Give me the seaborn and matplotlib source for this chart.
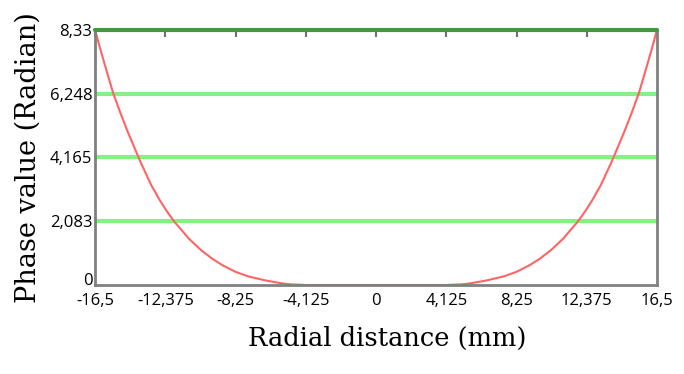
import numpy as np
import pandas as pd
import matplotlib
matplotlib.use("Agg")
import matplotlib.pyplot as plt
import matplotlib.transforms as mtransforms
import seaborn as sns

# phase profile (right half, curve is symmetric)
r_right = [0, 2.0, 4.125, 5.0, 5.5, 6.5, 7.5, 8.25, 9.0, 9.6, 10.3, 11.0,
           11.85, 12.3, 12.7, 13.2, 13.8, 14.2, 14.6, 15.0, 15.44, 16.0, 16.25, 16.5]
phase_right = [0, 0, 0, 0.02, 0.05, 0.15, 0.28, 0.43, 0.64, 0.85, 1.15, 1.52,
               2.07, 2.42, 2.77, 3.26, 3.98, 4.5, 5.03, 5.6, 6.27, 7.33, 7.82, 8.33]

x_ticks = [-16.5, -12.375, -8.25, -4.125, 0, 4.125, 8.25, 12.375, 16.5]
x_labels = ["-16,5", "-12,375", "-8,25", "-4,125", "0", "4,125", "8,25", "12,375", "16,5"]
y_ticks = [0, 2.083, 4.165, 6.248, 8.33]
y_labels = ["0", "2,083", "4,165", "6,248", "8,33"]

r = [-v for v in r_right[::-1]] + r_right[1:]
phase = phase_right[::-1] + phase_right[1:]
df = pd.DataFrame({"r": r, "phase": phase})

sns.set_style("white")
fig = plt.figure(figsize=(6.84, 3.74), dpi=100)
ax = fig.add_axes([0.139, 0.238, 0.8215, 0.682])

for yv in y_ticks[1:-1]:
    ax.axhline(yv, color="#86f086", lw=3, zorder=1)
ax.axhline(y_ticks[-1], color="#3f9a3f", lw=3, zorder=3, clip_on=False)

sns.lineplot(data=df, x="r", y="phase", color="#ff6464", lw=1.5, ax=ax,
             sort=False, zorder=2)

ax.set_xlim(-16.5, 16.5)
ax.set_ylim(0, 8.33)
ax.set_xticks(x_ticks)
ax.set_xticklabels(x_labels)
ax.set_yticks(y_ticks)
ax.set_yticklabels(y_labels)

for lab in ax.get_xticklabels() + ax.get_yticklabels():
    lab.set_fontfamily("Open Sans")
    lab.set_fontsize(12)
    lab.set_color("black")

ax.tick_params(axis="x", direction="in", top=True, length=5, width=1.5,
               color="#707070", pad=6)
ax.tick_params(axis="y", length=0, pad=2)

# nudge the "0" on the y axis up so it clears "-16,5"
zero_lab = ax.get_yticklabels()[0]
zero_lab.set_transform(zero_lab.get_transform() +
                       mtransforms.ScaledTranslation(0, 4 / 72, fig.dpi_scale_trans))

for side in ["left", "right", "bottom"]:
    ax.spines[side].set_color("#808080")
    ax.spines[side].set_linewidth(2)
ax.spines["top"].set_visible(False)

ax.set_xlabel("Radial distance (mm)", family="DejaVu Serif", fontsize=18.5, color="black")
ax.set_ylabel("Phase value (Radian)", family="DejaVu Serif", fontsize=19.5, color="black")
ax.xaxis.set_label_coords(0.52, -0.21)
ax.xaxis.label.set_va("center")
ax.yaxis.set_label_coords(-0.119, 0.5)
ax.yaxis.label.set_va("center")

fig.savefig("out.png", dpi=100)
